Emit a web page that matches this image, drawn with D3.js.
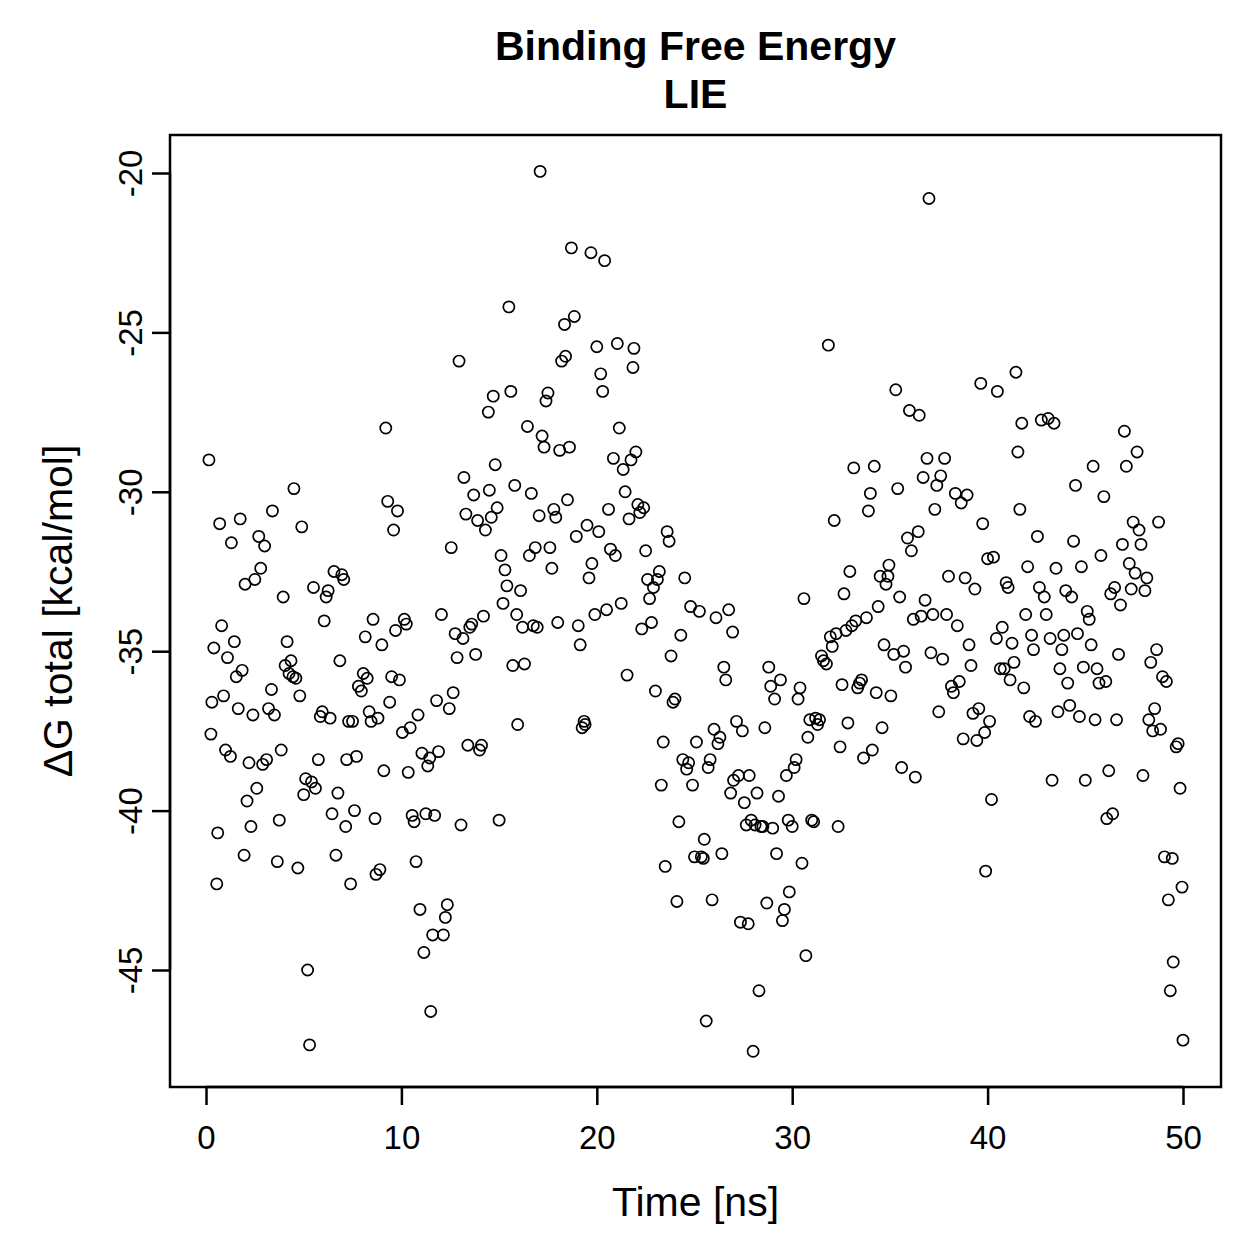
<!DOCTYPE html>
<html>
<head>
<meta charset="utf-8">
<script src="https://cdn.jsdelivr.net/npm/d3@7"></script>
<style>
body { margin: 0; background: white; }
text { font-family: "Liberation Sans", Arial, Helvetica, sans-serif; fill: black; }
</style>
</head>
<body>
<div id="chart"></div>
<script>

let time_ns = [0.15,0.25,0.3,0.4,0.55,0.6,0.7,0.8,0.9,1.0,1.1,1.25,1.3,1.45,1.55,1.65,1.75,1.85,1.95,2.0,2.1,2.2,2.3,2.4,2.5,2.6,2.7,2.8,2.9,3.0,3.1,3.2,3.35,3.4,3.5,3.65,3.75,3.85,3.95,4.05,4.15,4.25,4.35,4.45,4.5,4.6,4.7,4.8,4.9,5.0,
5.1,5.2,5.3,5.4,5.5,5.6,5.75,5.85,5.95,6.05,6.15,6.25,6.35,6.45,6.55,6.65,6.75,6.85,6.95,7.05,7.15,7.2,7.3,7.4,7.5,7.6,7.7,7.8,7.95,8.05,8.15,8.25,8.35,8.45,8.55,8.65,8.7,8.8,8.9,9.0,9.1,9.2,9.3,9.4,9.5,9.6,9.7,9.8,9.9,10.05,
10.15,10.25,10.35,10.45,10.55,10.65,10.75,10.85,10.95,11.05,11.15,11.25,11.35,11.45,11.5,11.6,11.7,11.8,11.9,12.05,12.15,12.25,12.35,12.45,12.55,12.65,12.75,12.85,12.95,13.05,13.15,13.2,13.3,13.4,13.5,13.6,13.7,13.8,13.9,14.0,14.1,14.2,14.3,14.45,14.5,14.6,14.7,14.8,14.9,15.0,
15.1,15.2,15.3,15.4,15.5,15.6,15.7,15.8,15.9,15.95,16.1,16.2,16.3,16.45,16.55,16.65,16.75,16.85,16.95,17.05,17.1,17.2,17.3,17.4,17.5,17.6,17.7,17.8,17.9,18.0,18.1,18.2,18.35,18.4,18.5,18.6,18.7,18.85,18.95,19.05,19.15,19.25,19.35,19.4,19.5,19.6,19.7,19.75,19.9,20.0,
20.1,20.2,20.3,20.4,20.5,20.6,20.7,20.85,20.95,21.05,21.15,21.25,21.35,21.45,21.55,21.65,21.75,21.85,21.9,22.0,22.1,22.2,22.3,22.4,22.5,22.6,22.7,22.8,22.9,23.0,23.1,23.2,23.3,23.4,23.5,23.6,23.7,23.8,23.9,24.0,24.1,24.2,24.3,24.4,24.5,24.6,24.7,24.8,24.9,25.0,
25.1,25.25,25.35,25.45,25.5,25.6,25.7,25.8,25.9,26.0,26.1,26.2,26.3,26.4,26.5,26.6,26.75,26.85,26.95,27.0,27.15,27.25,27.35,27.45,27.55,27.65,27.75,27.8,27.9,28.0,28.1,28.2,28.3,28.4,28.5,28.6,28.7,28.8,28.9,29.0,29.1,29.2,29.3,29.4,29.5,29.6,29.7,29.8,29.85,30.0,
30.1,30.2,30.3,30.4,30.5,30.6,30.7,30.8,30.9,31.0,31.1,31.2,31.3,31.4,31.5,31.6,31.75,31.85,31.95,32.05,32.15,32.25,32.35,32.45,32.55,32.65,32.75,32.85,32.95,33.05,33.15,33.25,33.35,33.45,33.55,33.65,33.8,33.9,34.0,34.1,34.2,34.3,34.4,34.5,34.6,34.7,34.8,34.9,34.95,35.05,
35.2,35.3,35.4,35.5,35.6,35.7,35.8,35.9,36.0,36.1,36.2,36.3,36.45,36.5,36.6,36.7,36.8,36.9,37.0,37.1,37.2,37.3,37.4,37.5,37.6,37.7,37.8,37.9,38.0,38.15,38.25,38.35,38.45,38.55,38.65,38.75,38.85,38.95,39.05,39.15,39.25,39.35,39.45,39.55,39.65,39.75,39.85,39.9,40.0,
40.1,40.2,40.3,40.45,40.5,40.65,40.75,40.85,40.95,41.05,41.15,41.25,41.35,41.45,41.55,41.65,41.75,41.85,41.95,42.05,42.15,42.25,42.35,42.45,42.55,42.65,42.75,42.9,43.0,43.1,43.2,43.3,43.4,43.5,43.6,43.7,43.8,43.9,44.0,44.1,44.2,44.3,44.4,44.5,44.6,44.7,44.8,44.9,45.0,
45.1,45.2,45.3,45.4,45.5,45.6,45.7,45.8,45.95,46.05,46.1,46.2,46.3,46.4,46.5,46.6,46.7,46.8,46.9,47.0,47.1,47.25,47.35,47.45,47.55,47.65,47.75,47.85,47.95,48.05,48.15,48.25,48.35,48.45,48.55,48.65,48.75,48.85,48.95,49.05,49.15,49.25,49.35,49.45,49.5,49.65,49.75,49.85,49.95,50.0]

let dG_total = [-29.0,-37.6,-36.6,-34.9,-42.3,-40.7,-31.0,-34.2,-36.4,-38.1,-35.2,-38.3,-31.6,-34.7,-35.8,-36.8,-30.85,-35.6,-41.4,-32.9,-39.7,-38.5,-40.5,-37.0,-32.75,-39.3,-31.4,-32.4,-38.55,-31.7,-38.4,-36.8,-36.2,-30.6,-37.0,-41.6,-40.3,-38.1,-33.3,-35.45,-34.7,-35.7,-35.3,-35.8,-29.9,-35.85,-41.8,-36.4,-31.1,-39.5,
-39.0,-45.0,-47.35,-39.1,-33.0,-39.3,-38.4,-37.05,-36.9,-34.05,-33.3,-33.1,-37.1,-40.1,-32.5,-41.4,-39.45,-35.3,-32.6,-32.75,-40.5,-38.4,-37.2,-42.3,-37.2,-40.0,-38.3,-36.1,-36.25,-35.7,-34.55,-35.85,-36.9,-37.2,-34.0,-40.25,-42.0,-37.1,-41.85,-34.8,-38.75,-28.0,-30.3,-36.6,-35.8,-31.2,-34.35,-30.6,-35.9,-37.55,
-34.0,-34.15,-38.8,-37.4,-40.15,-40.35,-41.6,-37.0,-43.1,-38.2,-44.45,-40.1,-38.6,-38.35,-46.3,-43.9,-40.15,-36.55,-38.15,-33.85,-43.9,-43.35,-42.95,-36.8,-31.75,-36.3,-34.45,-35.2,-25.9,-40.45,-34.6,-29.55,-30.7,-37.95,-34.25,-34.15,-30.1,-35.1,-30.9,-38.1,-37.95,-33.9,-31.2,-27.5,-29.95,-30.8,-27.0,-29.15,-30.5,-40.3,
-32.0,-33.5,-32.45,-32.95,-24.2,-26.85,-35.45,-29.8,-33.85,-37.3,-33.1,-34.25,-35.4,-27.95,-32.0,-30.05,-34.2,-31.75,-34.25,-30.75,-19.95,-28.25,-28.6,-27.15,-26.9,-31.75,-32.4,-30.55,-30.8,-34.1,-28.7,-25.9,-24.75,-25.75,-30.25,-28.6,-22.35,-24.5,-31.4,-34.2,-34.8,-37.4,-37.2,-37.3,-31.05,-32.7,-22.5,-32.25,-33.85,-25.45,
-31.25,-26.3,-26.85,-22.75,-33.7,-30.55,-31.8,-28.95,-32.0,-25.35,-28.0,-33.5,-29.3,-30.0,-35.75,-30.85,-29.0,-26.1,-25.5,-28.75,-30.4,-30.65,-34.3,-30.5,-31.85,-32.75,-33.35,-34.1,-33.0,-36.25,-32.75,-32.5,-39.2,-37.85,-41.75,-31.25,-31.55,-35.15,-36.6,-36.5,-42.85,-40.35,-34.5,-38.4,-32.7,-38.7,-38.5,-33.6,-39.2,-41.45,
-37.85,-33.75,-41.45,-41.5,-40.9,-46.6,-38.65,-38.4,-42.8,-37.45,-33.95,-37.9,-37.7,-41.35,-35.5,-35.9,-33.7,-39.45,-34.4,-39.05,-37.2,-38.9,-43.5,-37.5,-39.75,-40.45,-43.55,-38.9,-40.3,-47.55,-40.45,-39.45,-45.65,-40.5,-40.5,-37.4,-42.9,-35.5,-36.1,-40.55,-36.5,-41.35,-39.55,-35.9,-43.45,-43.1,-38.9,-40.3,-42.55,-40.5,
-38.65,-38.4,-36.5,-36.15,-41.65,-33.35,-44.55,-37.7,-37.15,-40.3,-40.35,-37.1,-37.3,-37.15,-35.15,-35.3,-35.4,-25.4,-34.55,-34.85,-30.9,-34.45,-40.5,-38.0,-36.05,-33.2,-34.35,-37.25,-32.5,-34.2,-29.25,-34.05,-36.15,-36.0,-35.9,-38.35,-33.95,-30.6,-30.05,-38.1,-29.2,-36.3,-33.6,-32.65,-37.4,-34.8,-32.9,-32.65,-32.3,-36.4,
-35.1,-26.8,-29.9,-33.3,-38.65,-35.0,-35.5,-31.45,-27.45,-31.85,-34.0,-38.95,-31.25,-27.6,-33.9,-29.55,-33.4,-28.95,-20.8,-35.05,-33.85,-30.55,-29.8,-36.9,-29.5,-35.25,-28.95,-33.85,-32.65,-36.1,-36.3,-30.05,-34.2,-35.95,-30.35,-37.75,-32.7,-30.1,-34.8,-35.45,-36.95,-33.05,-37.8,-36.8,-26.6,-31.0,-37.55,-41.9,-32.1,
-37.2,-39.65,-32.05,-34.6,-26.85,-35.55,-34.25,-35.55,-32.85,-33.0,-35.9,-34.75,-35.35,-26.25,-28.75,-30.55,-27.85,-36.15,-33.85,-32.35,-37.05,-34.5,-34.95,-37.2,-31.4,-33.0,-27.75,-33.3,-33.85,-27.7,-34.6,-39.05,-27.85,-32.4,-36.9,-35.55,-34.95,-34.5,-33.1,-36.0,-36.7,-33.3,-31.55,-29.8,-34.45,-37.05,-32.35,-35.5,-39.05,
-33.75,-34.0,-34.8,-29.2,-37.15,-35.55,-36.0,-32.0,-30.15,-35.95,-40.25,-38.75,-33.2,-40.1,-33.0,-37.15,-35.1,-33.55,-31.65,-28.1,-29.2,-32.25,-33.05,-30.95,-32.55,-28.75,-31.2,-31.65,-38.9,-33.1,-32.7,-37.15,-35.35,-37.5,-36.8,-34.95,-30.95,-37.45,-35.8,-41.45,-35.95,-42.8,-45.65,-41.5,-44.75,-38.0,-37.9,-39.3,-42.4,-47.2]

let x_ticks = [0, 10, 20, 30, 40, 50]
let y_ticks = [-20, -25, -30, -35, -40, -45]
let title_lines = ["Binding Free Energy", "LIE"]
let x_label = "Time [ns]"
let y_label = "\u0394G total [kcal/mol]"

let data = time_ns.map((t, i) => ({t: t, v: dG_total[i]}))

let W = 1259, H = 1259
let box = {left: 170, right: 1221, top: 135, bottom: 1087}

let x = d3.scaleLinear()
.domain([0, 50])
.range([206, 1183])

let y = d3.scaleLinear()
.domain([-20, -45])
.range([173, 970])

let svg = d3.select("#chart")
.append("svg")
.attr("width", W)
.attr("height", H)

svg.append("rect")
.attr("width", W)
.attr("height", H)
.attr("fill", "white")

// title
svg.selectAll(".title")
.data(title_lines)
.enter()
.append("text")
.attr("class", "title")
.attr("x", (box.left + box.right) / 2)
.attr("y", (d, i) => 60 + i * 48)
.attr("text-anchor", "middle")
.style("font-size", "41px")
.style("font-weight", "bold")
.text(d => d)

// points
svg.append("g")
.selectAll("circle")
.data(data)
.enter()
.append("circle")
.attr("cx", d => x(d.t))
.attr("cy", d => y(d.v))
.attr("r", 5.6)
.attr("fill", "none")
.attr("stroke", "black")
.attr("stroke-width", 1.7)

// x axis
let xAxis = svg.append("g")
.attr("transform", "translate(0," + box.bottom + ")")
.call(d3.axisBottom(x).tickValues(x_ticks).tickSize(18).tickPadding(21).tickFormat(d3.format("d")))

xAxis.select(".domain").attr("d", "M" + x(0) + ",0H" + x(50)).attr("stroke-width", 2.5)
xAxis.selectAll(".tick line").attr("stroke-width", 2.5)
xAxis.selectAll(".tick text")
.attr("font-family", null)
.style("font-size", "33px")

// y axis
let yAxis = svg.append("g")
.attr("transform", "translate(" + box.left + ",0)")
.call(d3.axisLeft(y).tickValues(y_ticks).tickSize(18).tickFormat(d => d))

yAxis.select(".domain").attr("d", "M0," + y(-20) + "V" + y(-45)).attr("stroke-width", 2.5)
yAxis.selectAll(".tick line").attr("stroke-width", 2.5)
yAxis.selectAll(".tick text")
.attr("font-family", null)
.attr("x", null)
.attr("dy", null)
.attr("text-anchor", "middle")
.attr("transform", "translate(-28,0) rotate(-90)")
.style("font-size", "33px")

// box
svg.append("rect")
.attr("x", box.left)
.attr("y", box.top)
.attr("width", box.right - box.left)
.attr("height", box.bottom - box.top)
.attr("fill", "none")
.attr("stroke", "black")
.attr("stroke-width", 2.5)

// axis labels
svg.append("text")
.attr("x", (box.left + box.right) / 2)
.attr("y", 1216)
.attr("text-anchor", "middle")
.style("font-size", "41px")
.text(x_label)

svg.append("text")
.attr("transform", "translate(72," + ((box.top + box.bottom) / 2) + ") rotate(-90)")
.attr("text-anchor", "middle")
.style("font-size", "41px")
.text(y_label)

</script>
</body>
</html>
